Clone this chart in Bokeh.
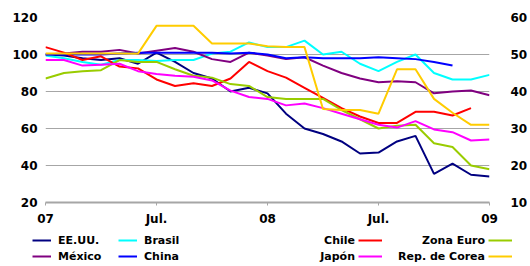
from bokeh.plotting import figure
from bokeh.layouts import column, row
from bokeh.models import Range1d, LinearAxis, FixedTicker, Legend, LegendItem
from bokeh.embed import file_html
from bokeh.resources import INLINE

nan = float("nan")

meses = ["2007-01", "2007-02", "2007-03", "2007-04", "2007-05", "2007-06", "2007-07",
         "2007-08", "2007-09", "2007-10", "2007-11", "2007-12", "2008-01", "2008-02",
         "2008-03", "2008-04", "2008-05", "2008-06", "2008-07", "2008-08", "2008-09",
         "2008-10", "2008-11", "2008-12", "2009-01"]
tick_meses = ["2007-01", "2007-07", "2008-01", "2008-07", "2009-01"]
tick_labels = ["07", "Jul.", "08", "Jul.", "09"]

eeuu = [100, 99.5, 98, 97, 98, 95, 101, 96, 90, 87, 80, 82, 79, 68, 60, 57, 53, 46.5, 47, 53, 56, 35.5, 41, 35, 34]
brasil = [99.5, 98, 96, 94.5, 97, 97, 96.5, 97, 97, 100.5, 101.5, 106.5, 104, 104, 107.5, 100, 101.5, 95, 91, 96, 100, 90, 86.5, 86.5, 89]
mexico = [100, 100.5, 101.5, 101.5, 102.5, 100.5, 102, 103.5, 101.5, 97.5, 96, 101, 99.5, 97.5, 98.5, 94, 90, 87, 85, 85.5, 85, 79, 80, 80.5, 78]
china = [100, 100, 100, 100, 100.5, 101, 101, 101, 101, 101, 100.5, 101, 100, 98, 98.5, 98, 98, 98, 98.5, 98, 97.5, 96, 94, nan, nan]
chile = [104, 101, 97, 99, 93.5, 92.5, 86.5, 83, 84.5, 83, 87, 96, 91, 87.5, 82, 76.5, 71, 66.5, 63, 63, 69, 69, 67, 71, nan]
zona_euro = [87, 90, 91, 91.5, 97, 96, 96, 92, 88.5, 87.5, 84, 83, 77, 76, 76, 76, 70, 65, 60, 61.5, 62, 52, 50, 40, 38]
japon = [97, 97, 94, 94.5, 95, 91, 89.5, 88.5, 88, 86, 80.5, 77, 76, 72.5, 73.5, 71, 68, 65, 62, 60.5, 64, 59.5, 58, 53.5, 54]
corea = [100.5, 100.5, 100.5, 100.5, 100.5, 100.5, 115.5, 115.5, 115.5, 106, 106, 106, 104.5, 104, 104, 70.5, 70, 70, 68, 92, 92, 76, 68.5, 62, 62]

left_ticks = [20, 40, 60, 80, 100, 120]
right_ticks = [10, 20, 30, 40, 50, 60]

x = list(range(len(meses)))
tick_x = [meses.index(m) for m in tick_meses]

FONT = "DejaVu Sans"
GRID = "#a6a6a6"

series = [
    ("EE.UU.", eeuu, "#000080"),
    ("Brasil", brasil, "#00FFFF"),
    ("México", mexico, "#800080"),
    ("China", china, "#0000FF"),
    ("Chile", chile, "#FF0000"),
    ("Zona Euro", zona_euro, "#99CC00"),
    ("Japón", japon, "#FF00FF"),
    ("Rep. de Corea", corea, "#FFCC00"),
]
colors = {n: c for n, _, c in series}
values = {n: v for n, v, _ in series}

# ---------------- main chart ----------------
p = figure(width=530, height=230, output_backend="svg", toolbar_location=None,
           x_range=Range1d(x[0], x[-1]), y_range=Range1d(20, 120),
           min_border_left=45, min_border_right=33, min_border_top=17, min_border_bottom=28)
p.outline_line_color = None
p.extra_y_ranges = {"right": Range1d(10, 60)}

for name, vals, col in series:
    p.line(x, vals, line_color=col, line_width=2)

p.xaxis.ticker = FixedTicker(ticks=tick_x)
p.xaxis.major_label_overrides = {t: l for t, l in zip(tick_x, tick_labels)}
p.xaxis.axis_line_color = GRID
p.xaxis.axis_line_width = 2
p.xaxis.major_tick_line_color = GRID
p.xaxis.major_tick_in = 0
p.xaxis.major_tick_out = 3
p.xaxis.minor_tick_line_color = None
p.xaxis.major_label_standoff = 6

p.yaxis.ticker = FixedTicker(ticks=left_ticks)
p.yaxis.axis_line_color = None
p.yaxis.major_tick_line_color = None
p.yaxis.minor_tick_line_color = None
p.yaxis.major_label_standoff = 2

ry = LinearAxis(y_range_name="right", ticker=FixedTicker(ticks=right_ticks))
ry.axis_line_color = None
ry.major_tick_line_color = None
ry.minor_tick_line_color = None
ry.major_label_standoff = 15
p.add_layout(ry, "right")

for ax in [p.xaxis[0], p.yaxis[0], ry]:
    ax.major_label_text_font = FONT
    ax.major_label_text_font_style = "bold"
    ax.major_label_text_font_size = "12px"
    ax.major_label_text_color = "black"

p.xgrid.grid_line_color = None
p.ygrid.grid_line_color = GRID
p.ygrid.grid_line_width = 1.2
p.ygrid.ticker = FixedTicker(ticks=[40, 60, 80, 100, 120])

# ---------------- legend strip ----------------
LEG_H = 36
LEG_STYLE = dict(orientation="vertical", glyph_height=14, label_height=14, padding=0,
                 border_line_color=None, background_fill_alpha=0, inactive_fill_alpha=0,
                 label_text_font=FONT, label_text_font_style="bold",
                 label_text_font_size="11px", label_text_color="black")


def strip_fig(w):
    f = figure(width=w, height=LEG_H, output_backend="svg", toolbar_location=None,
               x_axis_location=None, y_axis_location=None, min_border=0,
               x_range=Range1d(0, 1), y_range=Range1d(0, 1))
    f.outline_line_color = None
    f.xgrid.visible = False
    f.ygrid.visible = False
    return f


def hidden_line(f, n):
    return f.line(x, values[n], line_color=colors[n], line_width=2, visible=False)


strip = []
# left two columns: line, then label
for names, w, off in [(["EE.UU.", "México"], 118, 32), (["Brasil", "China"], 182, 0)]:
    f = strip_fig(w)
    items = [LegendItem(label=n, renderers=[hidden_line(f, n)]) for n in names]
    f.add_layout(Legend(items=items, location="center_left", margin=off,
                        glyph_width=19, label_standoff=7, spacing=2, **LEG_STYLE))
    strip.append(f)

# right two columns: label (right aligned), then line
for names, w_lab, w_line in [(["Chile", "Japón"], 58, 37), (["Zona Euro", "Rep. de Corea"], 93, 42)]:
    fl = strip_fig(w_lab)
    for n, loc in zip(names, ["top_right", "bottom_right"]):
        fl.add_layout(Legend(items=[LegendItem(label=n, renderers=[hidden_line(fl, n)])],
                             location=loc, margin=3, glyph_width=0, label_standoff=0,
                             spacing=0, **LEG_STYLE))
    strip.append(fl)
    fg = strip_fig(w_line)
    items = [LegendItem(label=" ", renderers=[hidden_line(fg, n)]) for n in names]
    fg.add_layout(Legend(items=items, location="center_left", margin=0,
                         glyph_width=24, label_standoff=0, spacing=2, **LEG_STYLE))
    strip.append(fg)

layout = column(p, row(*strip, spacing=0), spacing=0)
open("out.html", "w").write(file_html(layout, INLINE))
